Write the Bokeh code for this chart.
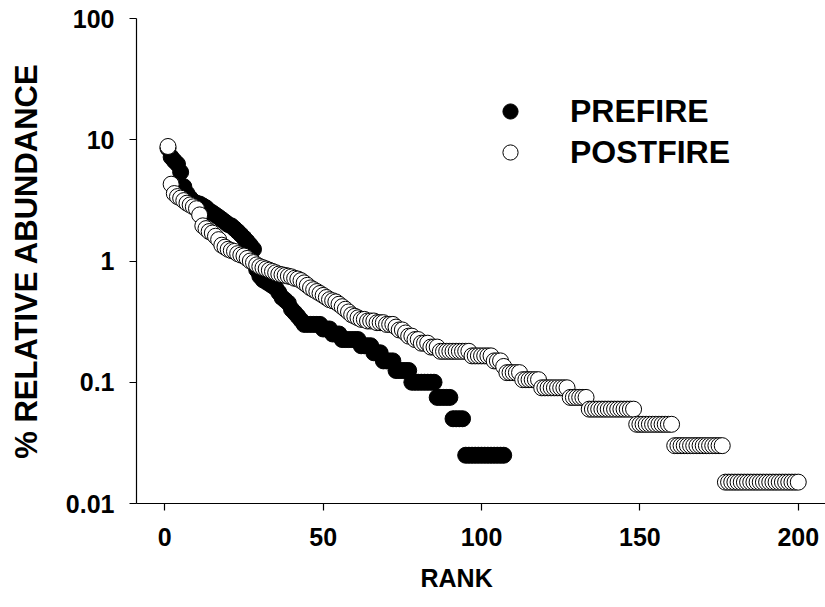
from bokeh.plotting import figure
from bokeh.models import Range1d, FixedTicker, CustomJSTickFormatter, Title
from bokeh.embed import file_html
from bokeh.resources import INLINE

# % relative abundance by rank
prefire = [
    8.5, 7.2, 6.7, 6.3, 5.4, 4.1, 3.6, 3.3, 3.1, 3.0,
    2.95, 2.85, 2.75, 2.6, 2.5, 2.4, 2.3, 2.2, 2.1, 2.0,
    1.95, 1.85, 1.75, 1.65, 1.55, 1.45, 1.35, 1.25, 0.85, 0.75,
    0.7, 0.675, 0.65, 0.625, 0.6, 0.55, 0.5, 0.475, 0.45, 0.4,
    0.375, 0.35, 0.325, 0.3, 0.3, 0.3, 0.3, 0.3, 0.3, 0.275,
    0.275, 0.275, 0.25, 0.25, 0.25, 0.225, 0.225, 0.225, 0.225, 0.225,
    0.225, 0.2, 0.2, 0.2, 0.2, 0.175, 0.175, 0.175, 0.15, 0.15,
    0.15, 0.15, 0.125, 0.125, 0.125, 0.125, 0.125, 0.1, 0.1, 0.1,
    0.1, 0.1, 0.1, 0.1, 0.1, 0.075, 0.075, 0.075, 0.075, 0.075,
    0.05, 0.05, 0.05, 0.05, 0.025, 0.025, 0.025, 0.025, 0.025, 0.025,
    0.025, 0.025, 0.025, 0.025, 0.025, 0.025, 0.025,
]

postfire = [
    8.8, 4.3, 3.6, 3.4, 3.3, 3.15, 3.0, 2.9, 2.8, 2.7,
    2.4, 1.95, 1.85, 1.75, 1.7, 1.6, 1.5, 1.35, 1.3, 1.25,
    1.22, 1.2, 1.15, 1.12, 1.1, 1.05, 1.0, 0.97, 0.93, 0.9,
    0.88, 0.86, 0.84, 0.82, 0.8, 0.78, 0.77, 0.76, 0.75, 0.74,
    0.72, 0.71, 0.69, 0.66, 0.63, 0.6, 0.58, 0.56, 0.54, 0.52,
    0.5, 0.48, 0.47, 0.46, 0.44, 0.42, 0.4, 0.38, 0.36, 0.35,
    0.34, 0.33, 0.33, 0.32, 0.32, 0.32, 0.31, 0.31, 0.31, 0.3,
    0.3, 0.3, 0.285, 0.27, 0.27, 0.255, 0.24, 0.24, 0.225, 0.225,
    0.21, 0.21, 0.21, 0.195, 0.195, 0.195, 0.18, 0.18, 0.18, 0.18,
    0.18, 0.18, 0.18, 0.18, 0.18, 0.18, 0.165, 0.165, 0.165, 0.165,
    0.165, 0.165, 0.165, 0.15, 0.15, 0.15, 0.135, 0.12, 0.12, 0.12,
    0.12, 0.12, 0.105, 0.105, 0.105, 0.105, 0.105, 0.105, 0.09, 0.09,
    0.09, 0.09, 0.09, 0.09, 0.09, 0.09, 0.09, 0.075, 0.075, 0.075,
    0.075, 0.075, 0.075, 0.06, 0.06, 0.06, 0.06, 0.06, 0.06, 0.06,
    0.06, 0.06, 0.06, 0.06, 0.06, 0.06, 0.06, 0.06, 0.045, 0.045,
    0.045, 0.045, 0.045, 0.045, 0.045, 0.045, 0.045, 0.045, 0.045, 0.045,
    0.03, 0.03, 0.03, 0.03, 0.03, 0.03, 0.03, 0.03, 0.03, 0.03,
    0.03, 0.03, 0.03, 0.03, 0.03, 0.03, 0.015, 0.015, 0.015, 0.015,
    0.015, 0.015, 0.015, 0.015, 0.015, 0.015, 0.015, 0.015, 0.015, 0.015,
    0.015, 0.015, 0.015, 0.015, 0.015, 0.015, 0.015, 0.015, 0.015, 0.015,
]

prefire_rank = list(range(1, len(prefire) + 1))
postfire_rank = list(range(1, len(postfire) + 1))

x_ticks = [0, 50, 100, 150, 200]
y_ticks = [0.01, 0.1, 1, 10, 100]

FONT = "Liberation Sans"

p = figure(width=825, height=607, y_axis_type="log",
           x_range=Range1d(-8.94, 208.6), y_range=Range1d(0.01, 100),
           output_backend="svg", toolbar_location=None,
           min_border_left=136, min_border_right=0,
           min_border_top=18, min_border_bottom=104)

p.scatter(prefire_rank, prefire, size=16, fill_color="black",
          line_color="black", line_width=1, legend_label="PREFIRE")
p.scatter(postfire_rank, postfire, size=16, fill_color="white",
          line_color="black", line_width=1, legend_label="POSTFIRE")

p.xgrid.grid_line_color = None
p.ygrid.grid_line_color = None
p.outline_line_color = None

p.xaxis.ticker = FixedTicker(ticks=x_ticks)
p.yaxis.ticker = FixedTicker(ticks=y_ticks)
p.yaxis.formatter = CustomJSTickFormatter(code="return tick.toString()")

for ax in (p.xaxis, p.yaxis):
    ax.axis_line_color = "black"
    ax.axis_line_width = 1.2
    ax.major_tick_line_color = "black"
    ax.major_tick_line_width = 1.2
    ax.major_tick_in = 0
    ax.major_tick_out = 7
    ax.minor_tick_line_color = None
    ax.major_label_text_font = FONT
    ax.major_label_text_font_style = "bold"
    ax.major_label_text_font_size = "25px"
    ax.major_label_text_color = "black"

p.xaxis.major_label_standoff = 17
p.yaxis.major_label_standoff = 15

p.yaxis.axis_label = "% RELATIVE ABUNDANCE"
p.yaxis.axis_label_text_font = FONT
p.yaxis.axis_label_text_font_style = "bold"
p.yaxis.axis_label_text_font_size = "31px"
p.yaxis.axis_label_text_color = "black"
p.yaxis.axis_label_standoff = 19

# x title sits a bit left of the frame centre in the original
p.add_layout(Title(text="RANK", align="left", offset=284, standoff=27,
                   text_font=FONT, text_font_style="bold",
                   text_font_size="25px", text_color="black"), "below")

leg = p.legend[0]
leg.location = (355, 332)
leg.margin = 0
leg.padding = 0
leg.spacing = 3
leg.glyph_width = 38
leg.glyph_height = 38
leg.label_standoff = 41
leg.label_text_font = FONT
leg.label_text_font_style = "bold"
leg.label_text_font_size = "32px"
leg.label_text_color = "black"
leg.background_fill_alpha = 0
leg.border_line_color = None

open("out.html", "w").write(file_html(p, INLINE))
